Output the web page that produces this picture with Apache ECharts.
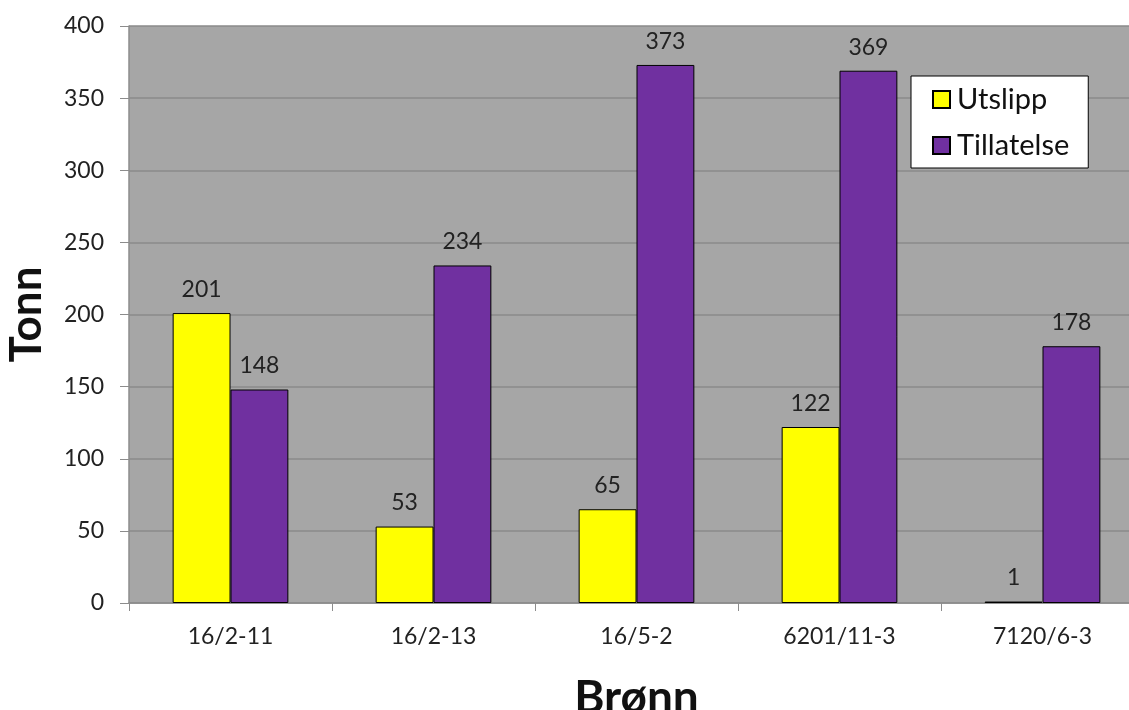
<!DOCTYPE html>
<html>
<head>
<meta charset="utf-8">
<script src="https://cdn.jsdelivr.net/npm/echarts@6/dist/echarts.min.js"></script>
<style>
  html, body { margin: 0; padding: 0; background: #fff; overflow: hidden; }
  #chart { width: 1160px; height: 710px; }
</style>
</head>
<body>
<div id="chart"></div>
<script>
// brønner og verdier (tonn)
var categories = ["16/2-11", "16/2-13", "16/5-2", "6201/11-3", "7120/6-3"];
var utslipp = [201, 53, 65, 122, 1];
var tillatelse = [148, 234, 373, 369, 178];
var yTicks = [0, 50, 100, 150, 200, 250, 300, 350, 400];

var font = "Lato, 'Open Sans', sans-serif";

// plot runs a bit past the right edge of the window, like the original
var myChart = echarts.init(document.getElementById("chart"));

var labelStyle = {
  show: true,
  position: "top",
  distance: 12,
  fontFamily: font,
  fontSize: 23,
  color: "#222"
};

var option = {
  animation: false,
  grid: {
    left: 129,
    top: 26,
    bottom: 107,
    right: 16,
    outerBoundsMode: "none",
    containLabel: false,
    show: true,
    backgroundColor: "#a6a6a6",
    borderWidth: 0
  },
  legend: {
    orient: "vertical",
    left: 911,
    top: 76,
    padding: [9, 19, 8, 21],
    backgroundColor: "#fff",
    borderColor: "#000",
    borderWidth: 1,
    itemWidth: 17,
    itemHeight: 17,
    itemGap: 17,
    icon: "rect",
    textStyle: { fontFamily: font, fontSize: 29, color: "#111", padding: [0, 0, 0, 2] },
    data: ["Utslipp", "Tillatelse"]
  },
  xAxis: {
    type: "category",
    data: categories,
    name: "Brønn",
    nameLocation: "middle",
    nameGap: 72,
    nameTextStyle: { fontFamily: font, fontSize: 46, fontWeight: "bold", color: "#111" },
    axisLine: { lineStyle: { color: "#8c8c8c", width: 1.5 } },
    axisTick: { show: true, length: 8, lineStyle: { color: "#8c8c8c" } },
    axisLabel: { fontFamily: font, fontSize: 23, color: "#222", margin: 22 },
    splitLine: { show: false }
  },
  yAxis: {
    type: "value",
    min: yTicks[0],
    max: yTicks[yTicks.length - 1],
    interval: 50,
    name: "Tonn",
    nameLocation: "middle",
    nameGap: 80,
    nameRotate: 90,
    nameTextStyle: { fontFamily: font, fontSize: 44, fontWeight: "bold", color: "#111" },
    axisLine: { show: true, lineStyle: { color: "#8c8c8c", width: 1.5 } },
    axisTick: { show: true, inside: false, length: 9, lineStyle: { color: "#8c8c8c" } },
    axisLabel: { fontFamily: font, fontSize: 23, color: "#222", margin: 25 },
    splitLine: { show: true, lineStyle: { color: "#8a8a8a", width: 1.5 } }
  },
  series: [
    {
      name: "Utslipp",
      type: "bar",
      data: utslipp,
      barGap: "0%",
      barCategoryGap: "43%",
      itemStyle: { color: "#ffff00", borderColor: "#000", borderWidth: 1 },
      label: labelStyle
    },
    {
      name: "Tillatelse",
      type: "bar",
      data: tillatelse,
      itemStyle: { color: "#7030a0", borderColor: "#000", borderWidth: 1 },
      label: labelStyle
    }
  ]
};

myChart.setOption(option);
</script>
</body>
</html>
